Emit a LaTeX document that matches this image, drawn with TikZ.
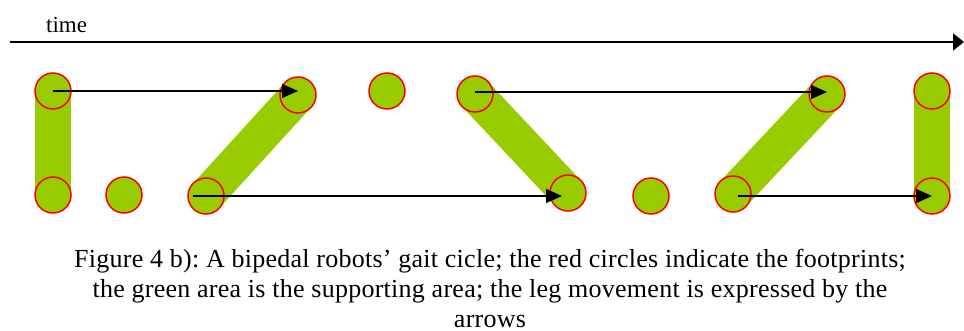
\documentclass[tikz,border=0pt]{standalone}
\usepackage{fontspec}
\setmainfont{Liberation Serif}
\usetikzlibrary{arrows.meta}
\definecolor{padgreen}{HTML}{99CC00}
\frenchspacing

\begin{document}
\begin{tikzpicture}[x=1pt,y=-1pt,
    foot/.style={circle, draw=red, fill=padgreen, line width=1.5pt, minimum size=36pt, inner sep=0pt},
    support/.style={padgreen, line width=36pt},
    swing/.style={-{Triangle[length=16pt,width=14pt]}, line width=1.3pt}]
\useasboundingbox (0,0) rectangle (964,331);

% Time axis
\coordinate (tstart) at (10,42);
\coordinate (tend) at (964,42);
\draw[-{Triangle[length=11pt,width=17pt]}, line width=1.8pt] (tstart) -- (tend);
\node[anchor=base west, inner sep=0pt, font=\fontsize{23}{26}\selectfont] (tlabel) at (46,33) {time};

% Footprint positions (upper row and lower row)
\coordinate (pt1) at (53,91);
\coordinate (pt2) at (298,95);
\coordinate (pt3) at (387,91);
\coordinate (pt4) at (475,94);
\coordinate (pt5) at (827,94);
\coordinate (pt6) at (932,91);
\coordinate (pb1) at (53,195);
\coordinate (pb2) at (124,195);
\coordinate (pb3) at (206,196);
\coordinate (pb4) at (568,193);
\coordinate (pb5) at (651,196);
\coordinate (pb6) at (733,194);
\coordinate (pb7) at (932,196);

% Supporting areas
\draw[support] (pt1) -- (pb1);
\draw[support] (pb3) -- (pt2);
\draw[support] (pt4) -- (pb4);
\draw[support] (pb6) -- (pt5);
\draw[support] (pt6) -- (pb7);

% Footprints
\foreach \i in {1,...,6}
{
    \node[foot] (t\i) at (pt\i) {};
}
\foreach \i in {1,...,7}
{
    \node[foot] (b\i) at (pb\i) {};
}

% Leg movements
\draw[swing] (t1.center) -- (t1.center -| t2.center);
\draw[swing] ([xshift=-13pt]b3.center) -- ([xshift=-6pt]b4.center |- b3.center);
\draw[swing] ([yshift=2pt]t4.center) -- ([yshift=2pt]t4.center -| t5.center);
\draw[swing] ([xshift=5pt]b6.center |- b7.center) -- (b7.center);

% Caption
\node[align=center, inner sep=0pt, anchor=base, font=\fontsize{26}{30}\selectfont\addfontfeature{LetterSpace=1}] (caption) at (490,327)
{Figure 4 b): A bipedal robots’ gait cicle; the red circles indicate the footprints;\\
the green area is the supporting area; the leg movement is expressed by the\\
arrows};
\end{tikzpicture}
\end{document}
